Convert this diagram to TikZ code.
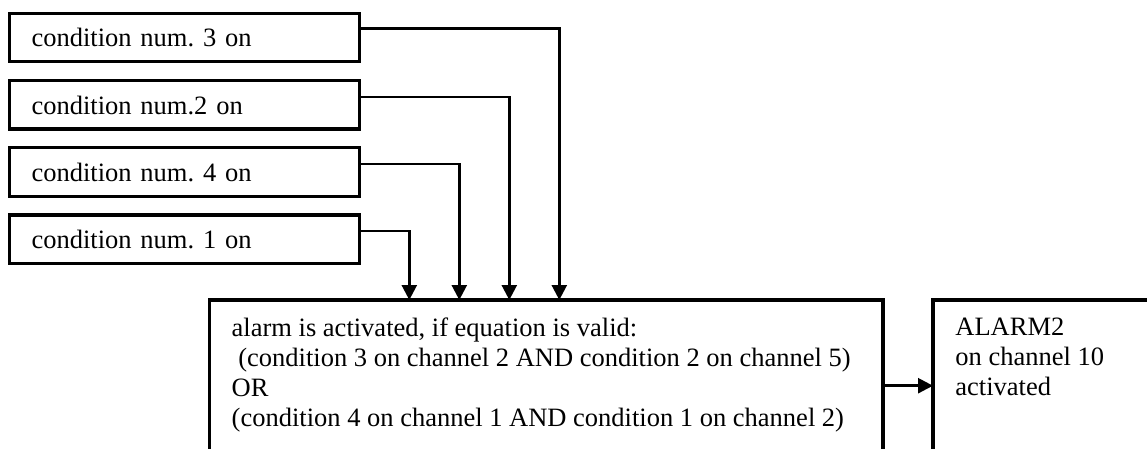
\documentclass[tikz,border=0pt]{standalone}
\usepackage{fontspec}
\setmainfont{Liberation Serif}
\usetikzlibrary{arrows.meta,calc}
\begin{document}
\frenchspacing
\begin{tikzpicture}[x=1pt,y=-1pt,
  box/.style={draw, line width=3.2pt, outer sep=0pt, font=\fontsize{26.5}{30}\selectfont\frenchspacing},
  cond/.style={box, anchor=north west, minimum width=350pt, minimum height=48.5pt,
    inner xsep=22pt, inner ysep=0pt, text width=306pt, align=left,
    text height=18.6pt, text depth=0pt},
  big/.style={box, anchor=north west, inner xsep=22.4pt, inner ysep=18pt},
  conn/.style={line width=2.5pt, -{Triangle[length=15pt,width=15pt]}}]
\useasboundingbox (0,0) rectangle (1147,448);
\fill[white] (0,0) rectangle (1147,448);
\clip (0,0) rectangle (1147,448);

\node[cond] (c3) at (9.5,13.3) {condition num. 3 on};
\node[cond] (c2) at (9.5,80.5) {condition num.2 on};
\node[cond] (c4) at (9.5,147.7) {condition num. 4 on};
\node[cond] (c1) at (9.5,214.9) {condition num. 1 on};

\node[big] (main) at (209.3,300) {\parbox[t][200pt][t]{628.9pt}{alarm is activated, if equation is valid:\\\hspace*{0.25em}(condition 3 on channel 2 AND condition 2 on channel 5)\\OR\\(condition 4 on channel 1 AND condition 1 on channel 2)}};
\node[big] (alarm) at (933,300) {\parbox[t][200pt][t]{250pt}{ALARM2\\on channel 10\\activated}};

\draw[conn] ([yshift=9pt]c3.east) -| ($(main.north west)+(350,0)$);
\draw[conn] ([yshift=8pt]c2.east) -| ($(main.north west)+(300,0)$);
\draw[conn] ([yshift=8pt]c4.east) -| ($(main.north west)+(250,0)$);
\draw[conn] ([yshift=8pt]c1.east) -| ($(main.north west)+(200,0)$);
\draw[conn] ($(main.north east)+(0,85.7)$) -- ($(alarm.north west)+(0,85.7)$);
\end{tikzpicture}
\end{document}
